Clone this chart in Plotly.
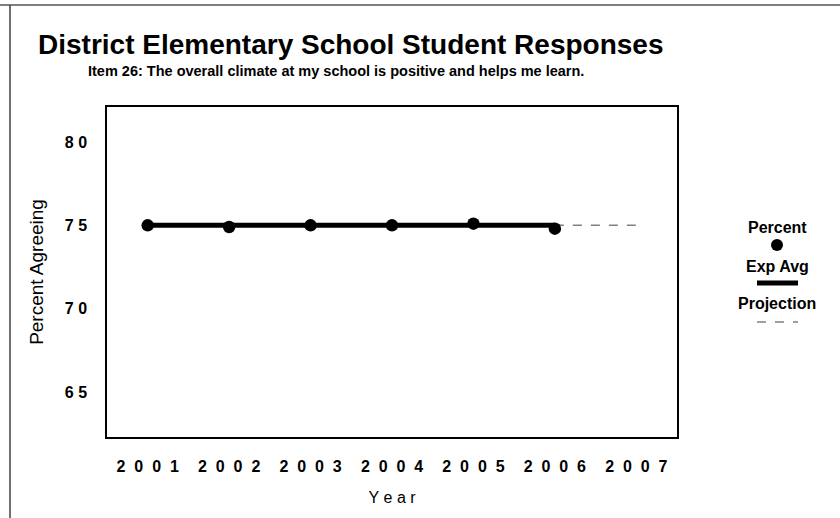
import plotly.graph_objects as go

years = [2001, 2002, 2003, 2004, 2005, 2006]
percent = [75.0, 74.9, 75.0, 75.0, 75.1, 74.8]
exp_avg = [75.0, 75.0, 75.0, 75.0, 75.0, 75.0]
proj_years = [2006, 2007]
proj_vals = [75.0, 75.0]
tick_years = [2001, 2002, 2003, 2004, 2005, 2006, 2007]
y_ticks = [65, 70, 75, 80]

title = "District Elementary School Student Responses"
subtitle = "Item 26: The overall climate at my school is positive and helps me learn."
legend_labels = ["Percent", "Exp Avg", "Projection"]

NB = "\u00a0"
def spaced(s, n=2):
    return (NB * n).join(list(str(s)))

W, H = 840, 518
L, R, T, B = 107, 677, 107, 437

def px(x):
    return (x - L) / (R - L)
def py(y):
    return (B - y) / (B - T)

FONT = "Liberation Sans, Arial, sans-serif"

fig = go.Figure()
fig.add_trace(go.Scatter(x=proj_years, y=proj_vals, mode="lines",
                         line=dict(color="#808080", width=1.5, dash="dash"),
                         showlegend=False, hoverinfo="skip"))
fig.add_trace(go.Scatter(x=years, y=exp_avg, mode="lines",
                         line=dict(color="black", width=5),
                         showlegend=False))
fig.add_trace(go.Scatter(x=years, y=percent, mode="markers",
                         marker=dict(color="black", size=12.5),
                         showlegend=False))

shapes = [
    # page frame
    dict(type="line", xref="paper", yref="paper", x0=px(0), x1=px(840), y0=py(5), y1=py(5),
         line=dict(color="#7f7f7f", width=2)),
    dict(type="line", xref="paper", yref="paper", x0=px(10), x1=px(10), y0=py(5), y1=py(518),
         line=dict(color="#404040", width=1.5)),
    # legend symbols
    dict(type="circle", xref="paper", yref="paper", x0=px(771), x1=px(783), y0=py(239), y1=py(251),
         fillcolor="black", line=dict(color="black", width=0)),
    dict(type="line", xref="paper", yref="paper", x0=px(757), x1=px(798), y0=py(283), y1=py(283),
         line=dict(color="black", width=5)),
    dict(type="line", xref="paper", yref="paper", x0=px(757), x1=px(798), y0=py(322), y1=py(322),
         line=dict(color="#808080", width=1.5, dash="dash")),
]

annotations = [
    dict(text="<b>" + title + "</b>", xref="paper", yref="paper", x=px(351), y=py(44),
         showarrow=False, font=dict(family=FONT, size=28, color="black"), xanchor="center", yanchor="middle"),
    dict(text="<b>" + subtitle + "</b>", xref="paper", yref="paper", x=px(336), y=py(71),
         showarrow=False, font=dict(family=FONT, size=14.5, color="black"), xanchor="center", yanchor="middle"),
]
for lab, yy in zip(legend_labels, [227, 266, 303]):
    annotations.append(dict(text="<b>" + lab + "</b>", xref="paper", yref="paper", x=px(777), y=py(yy),
                            showarrow=False, font=dict(family=FONT, size=16, color="black"),
                            xanchor="center", yanchor="middle"))

fig.update_layout(
    width=W, height=H,
    margin=dict(l=L, r=W - R, t=T, b=H - B, pad=0),
    paper_bgcolor="white", plot_bgcolor="white",
    showlegend=False,
    shapes=shapes, annotations=annotations,
    xaxis=dict(range=[2000.5, 2007.5], tickvals=tick_years,
               ticktext=["<b>" + spaced(y) + "</b>" for y in tick_years],
               tickfont=dict(family=FONT, size=16, color="black"),
               showgrid=False, zeroline=False, ticks="", showline=True, linecolor="black",
               linewidth=1.5, mirror=True, ticklabelstandoff=14,
               title=dict(text=spaced("Year", 1), font=dict(family=FONT, size=16, color="black"),
                          standoff=18)),
    yaxis=dict(range=[62.3, 82.1], tickvals=y_ticks,
               ticktext=["<b>" + spaced(v, 1) + "</b>" for v in y_ticks],
               tickfont=dict(family=FONT, size=16, color="black"),
               showgrid=False, zeroline=False, ticks="", showline=True, linecolor="black",
               linewidth=1.5, mirror=True, ticklabelstandoff=15,
               title=dict(text="Percent Agreeing", font=dict(family=FONT, size=19, color="black"),
                          standoff=16)),
)

fig.write_html("out.html")
